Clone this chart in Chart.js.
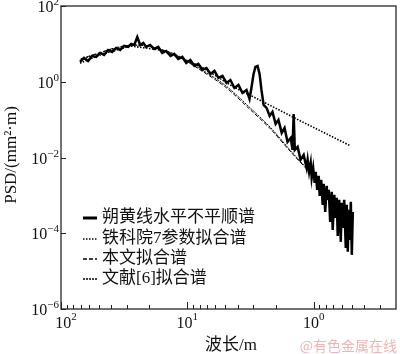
<!DOCTYPE html>
<html>
<head>
<meta charset="utf-8">
<script src="https://cdn.jsdelivr.net/npm/chart.js@4"></script>
<style>
  html, body { margin: 0; padding: 0; background: #fff; }
  #wrap { width: 400px; height: 354px; }
</style>
</head>
<body>
<div id="wrap"><canvas id="psd" width="400" height="354"></canvas></div>
<script>
// ===== data (wavelength m, PSD mm^2*m) =====
const measWave = [70.7, 65.7, 61.0, 56.7, 52.7, 49.0, 45.6, 42.4, 39.4, 36.6, 34.0, 31.6, 29.4, 27.8, 26.3, 24.9, 23.6, 22.3, 21.2, 19.7,
  18.3, 17.0, 15.8, 14.7, 13.6, 12.7, 11.8, 10.95, 10.2, 9.47, 8.80, 8.18, 7.60, 7.06, 6.56, 6.10, 5.67, 5.27, 4.90, 4.56,
  4.24, 3.94, 3.66, 3.40, 3.22, 3.11, 2.99, 2.89, 2.78, 2.68, 2.59, 2.49, 2.36, 2.23, 2.12, 2.00, 1.90, 1.79, 1.70, 1.61,
  1.52, 1.47, 1.44, 1.41, 1.34, 1.27, 1.20,
  1.137, 1.116, 1.086, 1.056, 1.037, 1.009, 0.982, 0.964, 0.938, 0.913, 0.896, 0.872, 0.848, 0.833, 0.810, 0.789, 0.774, 0.760, 0.740, 0.720,
  0.707, 0.687, 0.669, 0.657, 0.645, 0.628, 0.610, 0.600, 0.589, 0.573, 0.557, 0.547, 0.537, 0.528, 0.518, 0.508, 0.499, 0.490];
const measPsd = [3.33, 4.25, 3.54, 4.80, 4.51, 5.75, 5.10, 6.90, 6.11, 7.80, 6.90, 8.81, 8.28, 9.94, 9.35, 15.2, 9.35, 10.6, 8.28, 9.35,
  7.33, 8.28, 5.75, 6.50, 4.80, 5.42, 4.00, 4.51, 3.13, 3.76, 2.61, 2.95, 2.05, 2.31, 1.61, 1.93, 1.26, 1.42, 0.93, 1.11,
  0.686, 0.824, 0.506, 0.608, 0.352, 0.686, 1.61, 2.46, 2.61, 1.61, 0.608, 0.244, 0.204, 0.125, 0.160, 0.0771, 0.0982, 0.0446, 0.0604, 0.0258,
  0.0329, 0.0159, 0.141, 0.0159, 0.0191, 0.00865, 0.0117,
  0.00532, 0.00865, 0.00417, 0.00721, 0.00290, 0.00532, 0.00214, 0.00417, 0.00140, 0.00327, 9.70e-4, 0.00256, 5.61e-4, 0.00201, 3.67e-4, 0.00178, 7.60e-4, 0.00140, 2.00e-4, 0.00124,
  1.23e-4, 0.00103, 2.55e-4, 8.59e-4, 8.54e-5, 7.60e-4, 5.93e-5, 6.34e-4, 1.39e-4, 7.60e-4, 4.12e-5, 5.61e-4, 3.23e-5, 4.14e-4, 6.70e-5, 6.73e-4, 2.69e-5, 3.67e-4];

const tkyWave = [70.7, 49, 28.3, 16.4, 12, 7.9, 4.32, 2.63, 1.27, 0.509];
const tkyPsd = [3.1, 5.1, 8.8, 6.9, 4.6, 2.6, 0.73, 0.32, 0.092, 0.0202];

const fitWave = [70, 50, 35, 25, 18, 12, 7.9, 5, 3.16, 2.2, 1.52, 0.96, 0.7, 0.5];
const fitPsd = [4.0, 5.8, 8.3, 9.4, 7.8, 4.8, 2.05, 0.73, 0.18, 0.057, 0.0141, 0.00256, 5.0e-4, 7.6e-5];
const refPsd = [3.8, 5.6, 8.0, 9.2, 7.9, 5.0, 2.2, 0.80, 0.20, 0.062, 0.0150, 0.0027, 5.4e-4, 8.5e-5];

const seriesNames = ['朔黄线水平不平顺谱', '铁科院7参数拟合谱', '本文拟合谱', '文献[6]拟合谱'];

const xTickVals = [100, 10, 1];
const xTickExp = ['2', '1', '0'];
const xMinorVals = [90, 80, 70, 60, 50, 40, 30, 20, 9, 8, 7, 6, 5, 4, 3, 2, 0.9, 0.8, 0.7, 0.6, 0.5, 0.4, 0.3];
const yTickVals = [100, 1, 0.01, 1e-4, 1e-6];
const yTickExp = ['2', '0', '\u22122', '\u22124', '\u22126'];

function pts(xs, ys) {
  return xs.map((v, i) => ({ x: v, y: ys[i] }));
}

const serif = '"Liberation Serif", "Noto Sans CJK SC", serif';

// ===== frame, ticks, labels, legend =====
const decor = {
  id: 'decor',
  afterDraw(chart) {
    const { ctx, chartArea: a } = chart;
    const sx = chart.scales.x, sy = chart.scales.y;
    ctx.save();

    ctx.strokeStyle = '#444';
    ctx.lineWidth = 1.5;
    ctx.strokeRect(a.left, a.top, a.right - a.left, a.bottom - a.top);

    ctx.lineWidth = 1;
    ctx.strokeStyle = '#222';
    ctx.beginPath();
    xMinorVals.forEach(v => {
      const px = Math.round(sx.getPixelForValue(v)) + 0.5;
      ctx.moveTo(px, a.bottom); ctx.lineTo(px, a.bottom - 4);
    });
    xTickVals.forEach(v => {
      const px = Math.round(sx.getPixelForValue(v)) + 0.5;
      ctx.moveTo(px, a.bottom); ctx.lineTo(px, a.bottom - 7);
    });
    yTickVals.forEach(v => {
      const py = Math.round(sy.getPixelForValue(v)) + 0.5;
      ctx.moveTo(a.left, py); ctx.lineTo(a.left + 5, py);
    });
    ctx.stroke();

    ctx.fillStyle = '#111';
    ctx.textBaseline = 'alphabetic';
    // x tick labels
    xTickVals.forEach((v, i) => {
      ctx.font = '16px ' + serif;
      const wb = ctx.measureText('10').width;
      ctx.font = '11px ' + serif;
      const we = ctx.measureText(xTickExp[i]).width;
      let px = sx.getPixelForValue(v) - (wb + we) / 2;
      if (i === 0) px += 5;
      ctx.font = '16px ' + serif;
      ctx.textAlign = 'left';
      ctx.fillText('10', px, 328);
      ctx.font = '11px ' + serif;
      ctx.fillText(xTickExp[i], px + wb, 320);
    });
    // y tick labels
    yTickVals.forEach((v, i) => {
      const py = sy.getPixelForValue(v);
      ctx.font = '11px ' + serif;
      const we = ctx.measureText(yTickExp[i]).width;
      ctx.textAlign = 'right';
      ctx.fillText(yTickExp[i], 59, py - 1);
      ctx.font = '16px ' + serif;
      ctx.fillText('10', 59 - we, py + 6);
    });

    // axis titles
    ctx.font = '17px ' + serif;
    ctx.textAlign = 'center';
    ctx.textBaseline = 'middle';
    ctx.fillText('波长/m', 231, 346);
    ctx.save();
    ctx.translate(12, 155);
    ctx.rotate(-Math.PI / 2);
    ctx.fillText('PSD/(mm\u00b2\u00b7m)', 0, 0);
    ctx.restore();

    // legend
    const rows = [218, 239, 259, 279];
    chart.data.datasets.forEach((ds, i) => {
      ctx.beginPath();
      ctx.setLineDash(ds.borderDash || []);
      ctx.lineWidth = i === 0 ? 3 : 1.4;
      ctx.strokeStyle = '#000';
      ctx.moveTo(83, rows[i]); ctx.lineTo(97, rows[i]);
      ctx.stroke();
      ctx.setLineDash([]);
      ctx.font = '17px ' + serif;
      ctx.textAlign = 'left';
      ctx.fillStyle = '#111';
      ctx.fillText(ds.label, 102, rows[i]);
    });

    // watermark
    ctx.font = '14px "Noto Sans CJK SC", sans-serif';
    ctx.fillStyle = '#f0b4b4';
    ctx.textAlign = 'right';
    ctx.fillText('@有色金属在线', 397, 346);

    ctx.restore();
  }
};

// ===== chart =====
function createChart() {
  const ctx = document.getElementById('psd');
  return new Chart(ctx, {
    type: 'scatter',
    data: {
      datasets: [
        { label: seriesNames[0], data: pts(measWave, measPsd), showLine: true, borderColor: '#000', borderWidth: 2.5, pointRadius: 0 },
        { label: seriesNames[1], data: pts(tkyWave, tkyPsd), showLine: true, borderColor: '#000', borderWidth: 1.6, borderDash: [1.5, 1.5], pointRadius: 0 },
        { label: seriesNames[2], data: pts(fitWave, fitPsd), showLine: true, borderColor: '#000', borderWidth: 1, borderDash: [4, 2], tension: 0.3, pointRadius: 0 },
        { label: seriesNames[3], data: pts(fitWave, refPsd), showLine: true, borderColor: '#000', borderWidth: 1, borderDash: [2, 1], tension: 0.3, pointRadius: 0 }
      ]
    },
    options: {
      responsive: false,
      animation: false,
      layout: { padding: { left: 61, right: 4, top: 6, bottom: 45 } },
      plugins: { legend: { display: false }, tooltip: { enabled: false } },
      scales: {
        x: { type: 'logarithmic', reverse: true, min: 0.223, max: 100, display: false },
        y: { type: 'logarithmic', min: 1e-6, max: 100, display: false }
      }
    },
    plugins: [decor]
  });
}

createChart();
</script>
</body>
</html>
